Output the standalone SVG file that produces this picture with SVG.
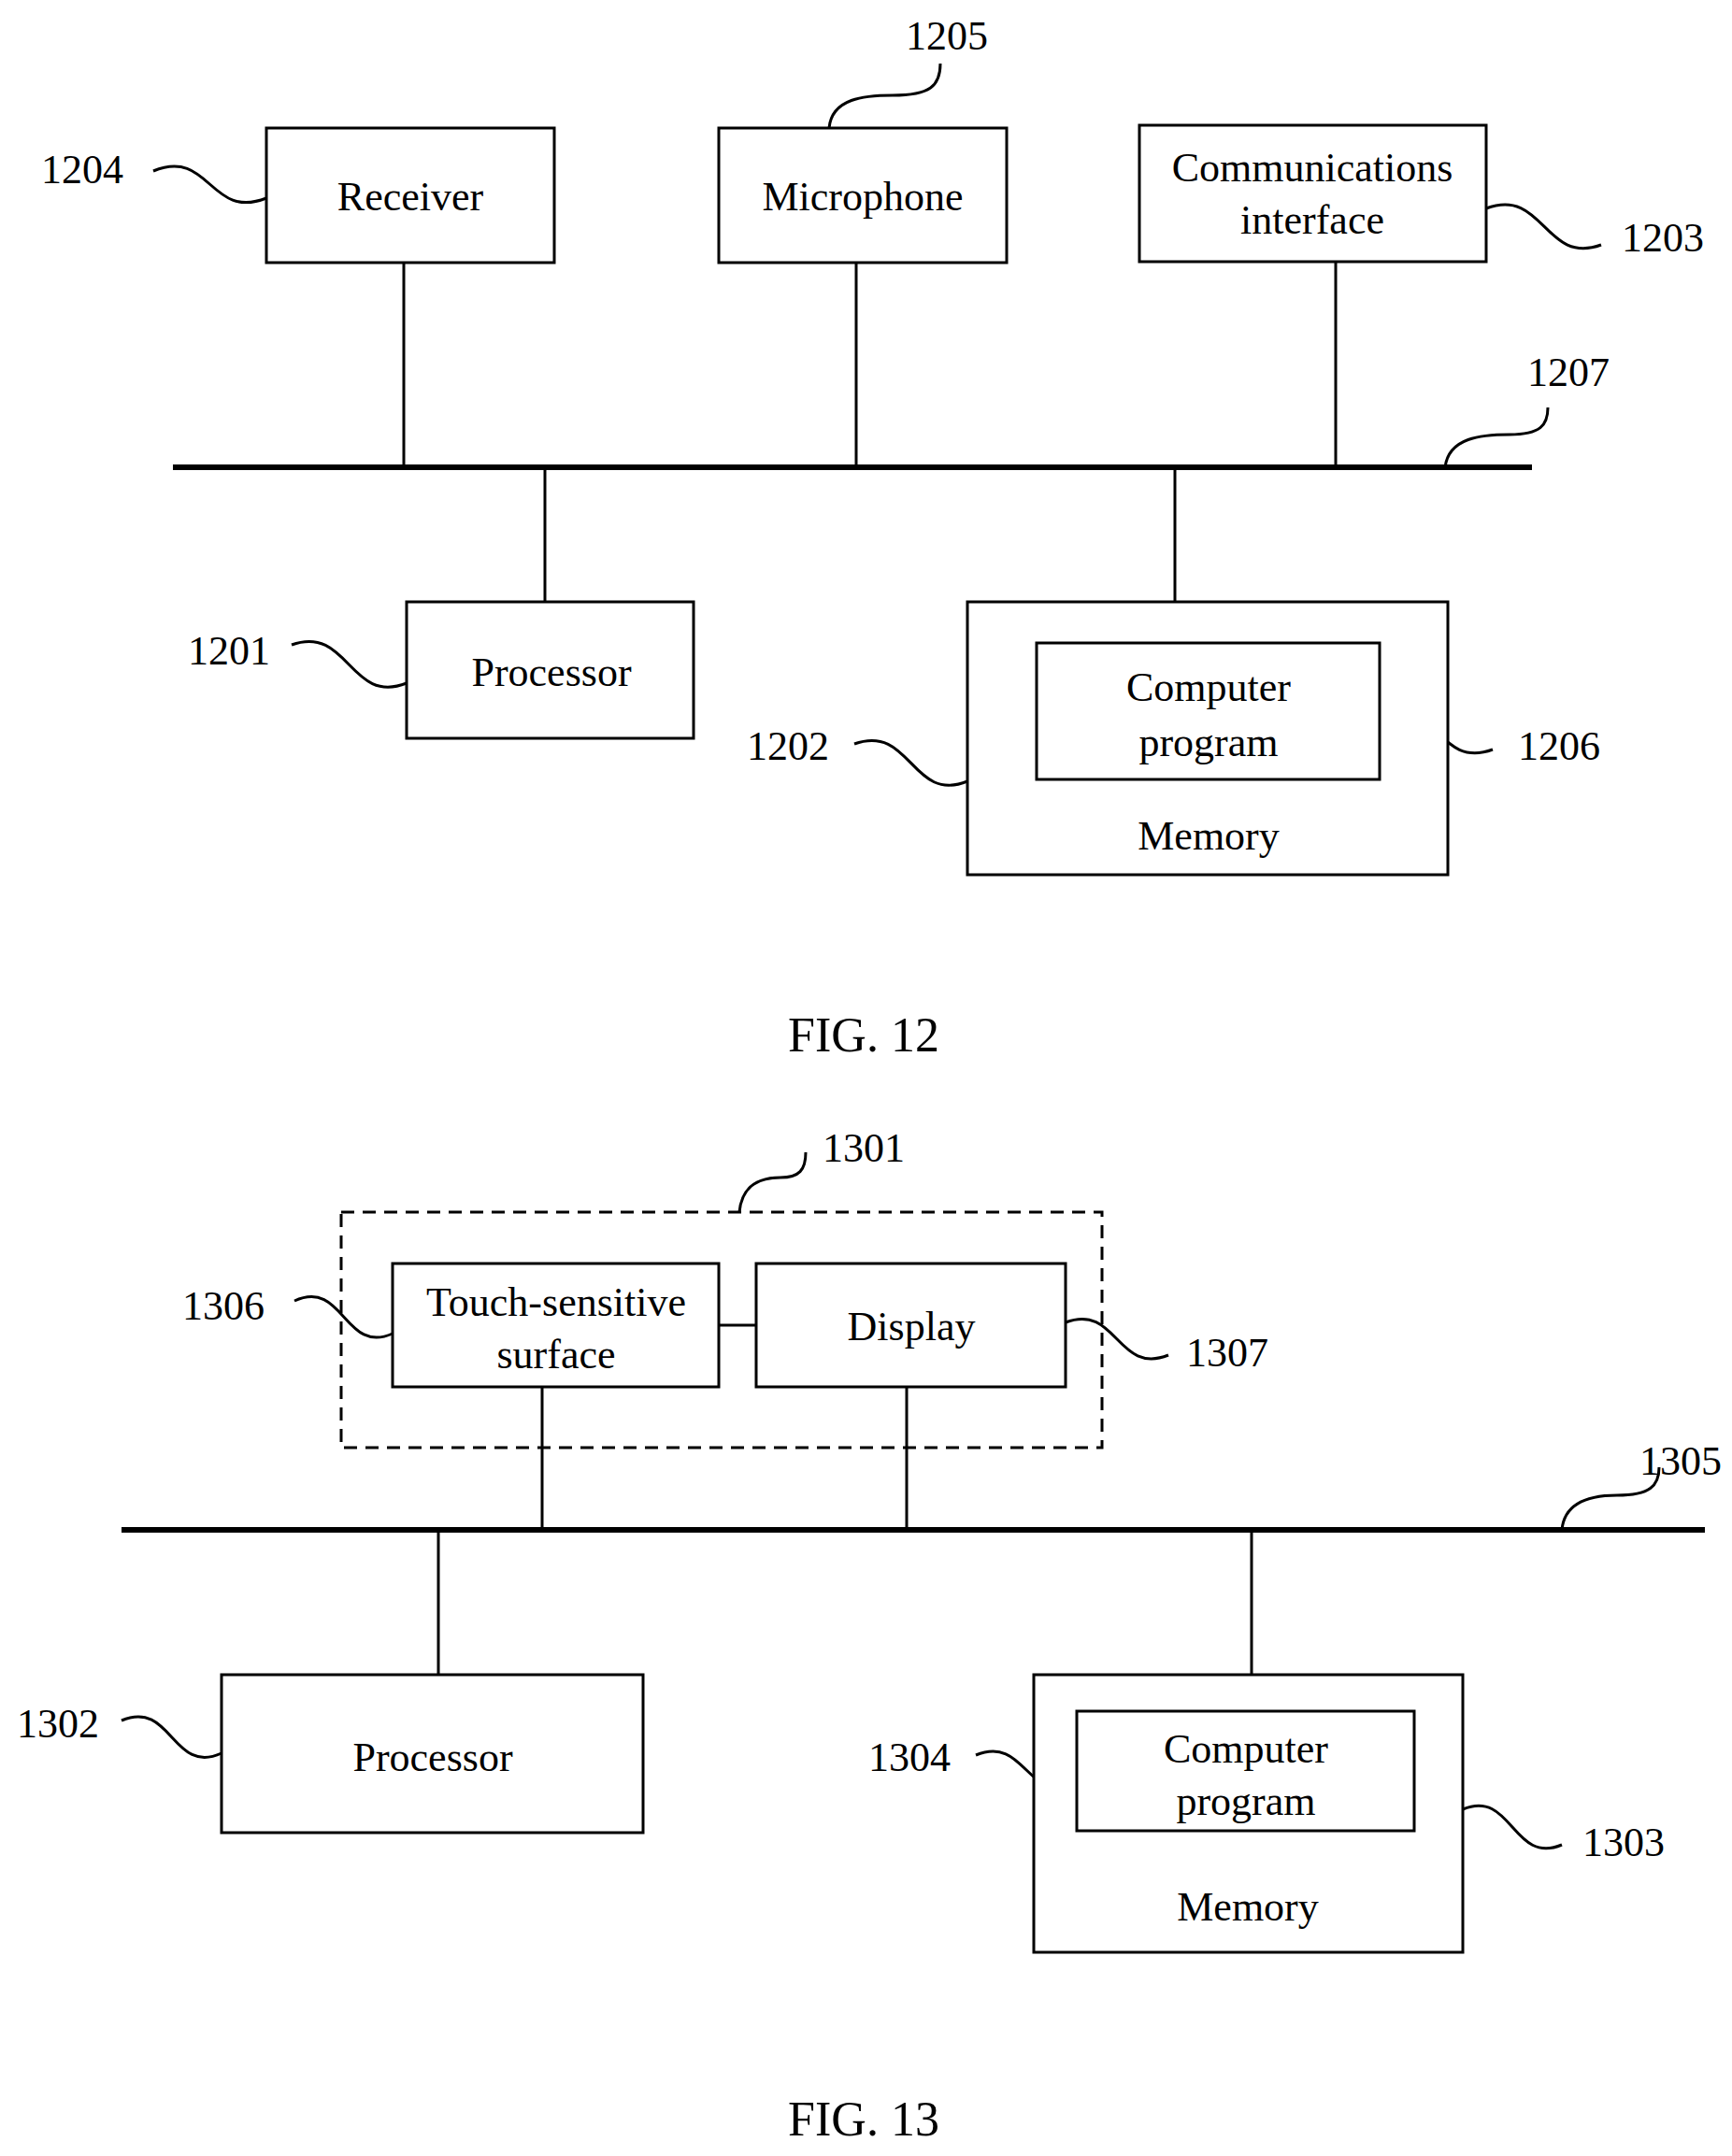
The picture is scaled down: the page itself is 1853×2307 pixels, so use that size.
<svg xmlns="http://www.w3.org/2000/svg" width="1853" height="2307" viewBox="0 0 1853 2307">
<style>
.b{fill:#fff;stroke:#000;stroke-width:3}
.d{fill:none;stroke:#000;stroke-width:3;stroke-dasharray:14 9}
.l{fill:none;stroke:#000;stroke-width:3}
.bus{fill:none;stroke:#000;stroke-width:6}
.s{fill:none;stroke:#000;stroke-width:3}
text{font-family:"Liberation Serif","Times New Roman",serif;font-size:44px;fill:#000}
.c{text-anchor:middle}
.f{font-size:52px}
</style>
<rect width="1853" height="2307" fill="#fff"/>
<g id="connectors">
<line class="bus" x1="185" y1="500" x2="1639" y2="500"/>
<line class="l" x1="432" y1="281" x2="432" y2="500"/>
<line class="l" x1="916" y1="281" x2="916" y2="500"/>
<line class="l" x1="1429" y1="280" x2="1429" y2="500"/>
<line class="l" x1="583" y1="500" x2="583" y2="644"/>
<line class="l" x1="1257" y1="500" x2="1257" y2="644"/>
<line class="bus" x1="130" y1="1637" x2="1824" y2="1637"/>
<line class="l" x1="769" y1="1418" x2="809" y2="1418"/>
<line class="l" x1="580" y1="1484" x2="580" y2="1637"/>
<line class="l" x1="970" y1="1484" x2="970" y2="1637"/>
<line class="l" x1="469" y1="1637" x2="469" y2="1792"/>
<line class="l" x1="1339" y1="1637" x2="1339" y2="1792"/>
</g>
<g id="leaders">
<path class="s" d="M164,183 C225,158 224,236 285,212"/>
<path class="s" d="M312,690 C373,668 374,755 435,731"/>
<path class="s" d="M914,796 C975,774 975,860 1035,836"/>
<path class="s" d="M1476,764 C1537,742 1537,824 1597,802"/>
<path class="s" d="M1590,223 C1652,200 1652,284 1713,262"/>
<path class="s" d="M887,137 C890,105 925,102 955,102 C995,102 1006,92 1006,68"/>
<path class="s" d="M1546,500 C1550,468 1585,465 1615,465 C1648,465 1656,455 1656,436"/>
<path class="s" d="M315,1392 C368,1368 368,1450 420,1427"/>
<path class="s" d="M1140,1415 C1195,1394 1195,1472 1250,1450"/>
<path class="s" d="M791,1297 C794,1266 815,1260 835,1260 C855,1260 862,1252 862,1233"/>
<path class="s" d="M1671,1637 C1674,1605 1705,1600 1730,1600 C1765,1600 1775,1590 1775,1570"/>
<path class="s" d="M130,1841 C184,1818 184,1900 237,1876"/>
<path class="s" d="M1044,1878 C1098,1856 1098,1932 1152,1909"/>
<path class="s" d="M1565,1936 C1618,1914 1618,1996 1671,1974"/>
</g>
<g id="labels">
<text x="44" y="196">1204</text>
<text x="969" y="53">1205</text>
<text x="1735" y="269">1203</text>
<text x="1634" y="413">1207</text>
<text x="201" y="711">1201</text>
<text x="799" y="813">1202</text>
<text x="1624" y="813">1206</text>
<text x="880" y="1243">1301</text>
<text x="195" y="1412">1306</text>
<text x="1269" y="1462">1307</text>
<text x="1754" y="1578">1305</text>
<text x="18" y="1859">1302</text>
<text x="929" y="1895">1304</text>
<text x="1693" y="1986">1303</text>
<text class="c f" x="924" y="1125">FIG. 12</text>
<text class="c f" x="924" y="2285">FIG. 13</text>
</g>
<g id="n1204"><rect class="b" x="285" y="137" width="308" height="144"/><text class="c" x="439" y="225">Receiver</text></g>
<g id="n1205"><rect class="b" x="769" y="137" width="308" height="144"/><text class="c" x="923" y="225">Microphone</text></g>
<g id="n1203"><rect class="b" x="1219" y="134" width="371" height="146"/><text class="c" x="1404" y="194">Communications</text><text class="c" x="1404" y="250">interface</text></g>
<g id="n1201"><rect class="b" x="435" y="644" width="307" height="146"/><text class="c" x="590" y="734">Processor</text></g>
<g id="n1202"><rect class="b" x="1035" y="644" width="514" height="292"/><text class="c" x="1293" y="909">Memory</text></g>
<g id="n1206"><rect class="b" x="1109" y="688" width="367" height="146"/><text class="c" x="1293" y="750">Computer</text><text class="c" x="1293" y="809">program</text></g>
<g id="n1301"><rect class="d" x="365" y="1297" width="814" height="252"/></g>
<g id="n1306"><rect class="b" x="420" y="1352" width="349" height="132"/><text class="c" x="595" y="1408">Touch-sensitive</text><text class="c" x="595" y="1464">surface</text></g>
<g id="n1307"><rect class="b" x="809" y="1352" width="331" height="132"/><text class="c" x="975" y="1434">Display</text></g>
<g id="n1302"><rect class="b" x="237" y="1792" width="451" height="169"/><text class="c" x="463" y="1895">Processor</text></g>
<g id="n1303"><rect class="b" x="1106" y="1792" width="459" height="297"/><text class="c" x="1335" y="2055">Memory</text></g>
<g id="n1304"><rect class="b" x="1152" y="1831" width="361" height="128"/><text class="c" x="1333" y="1886">Computer</text><text class="c" x="1333" y="1942">program</text></g>
</svg>
